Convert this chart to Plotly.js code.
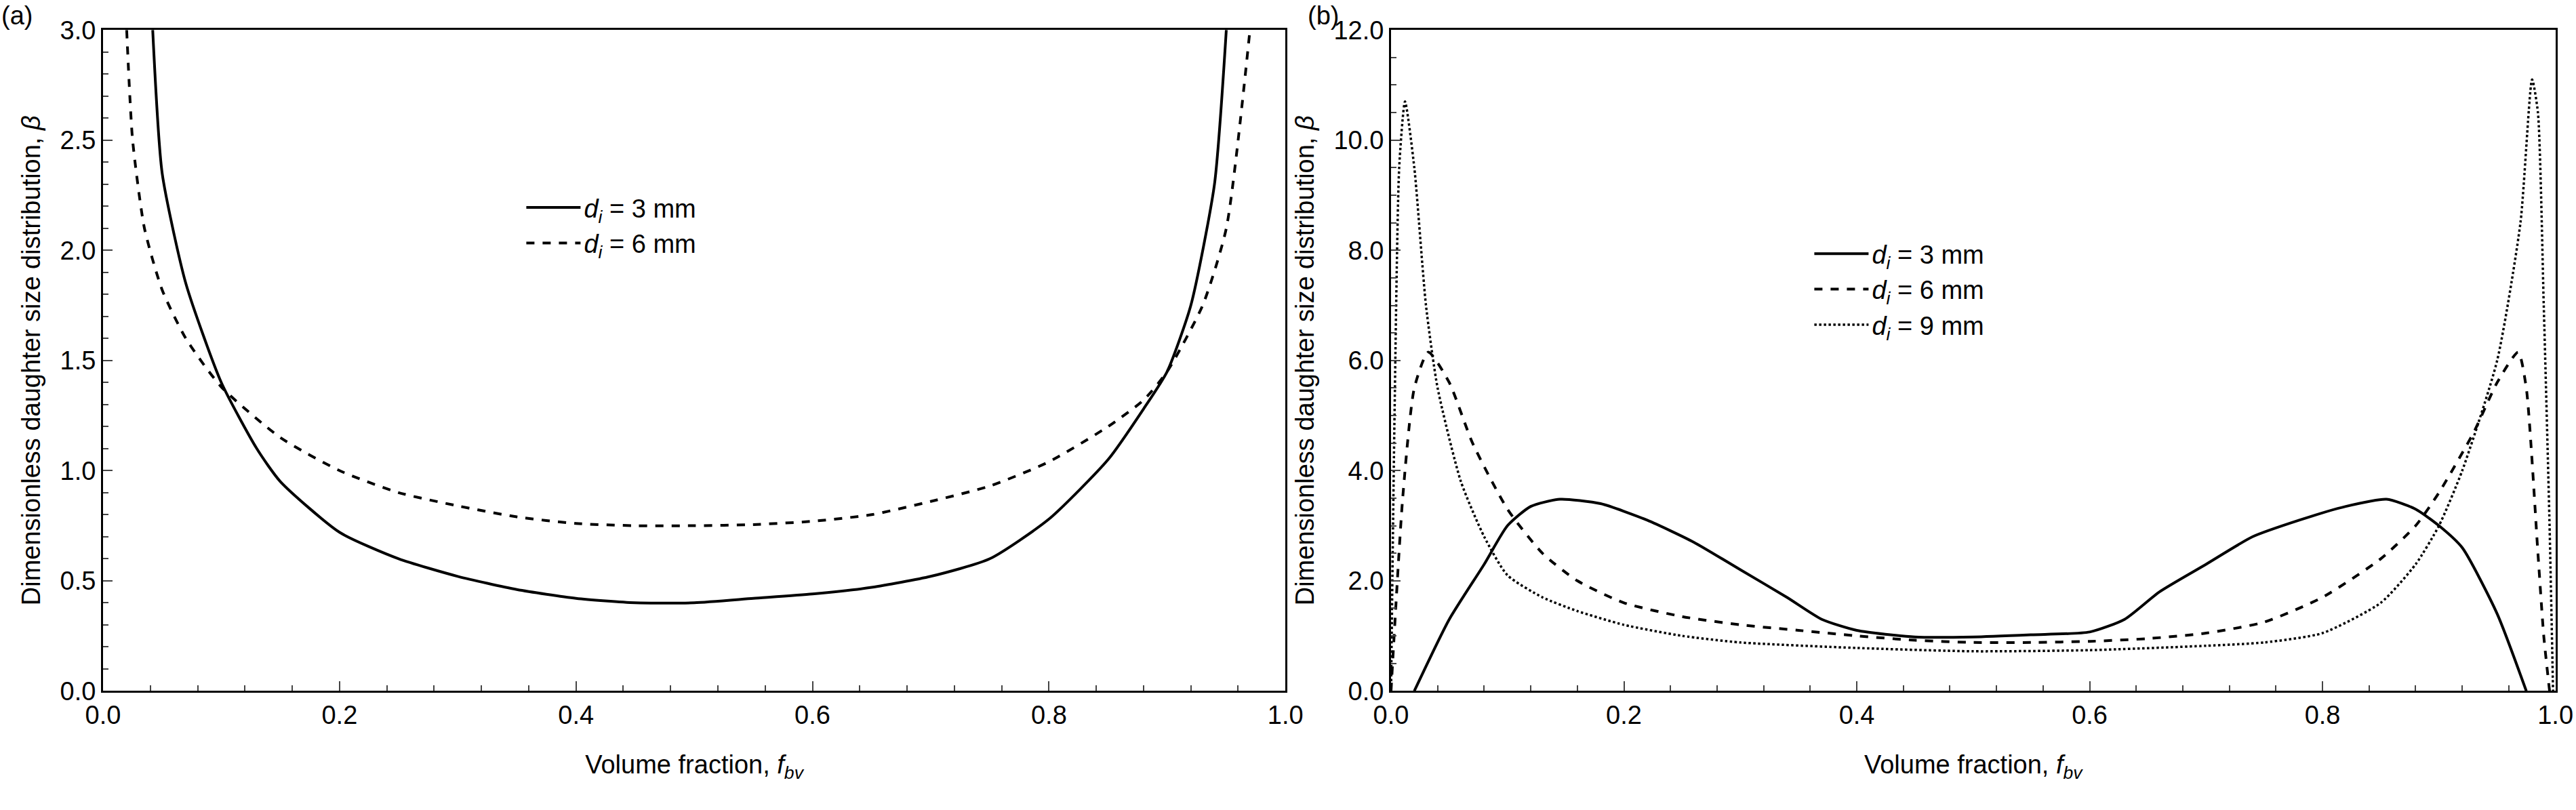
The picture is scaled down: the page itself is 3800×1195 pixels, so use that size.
<!DOCTYPE html>
<html><head><meta charset="utf-8">
<script src="https://cdn.plot.ly/plotly-3.0.1.min.js"></script>
<style>body{margin:0}#chart{width:3800px;height:1195px}</style>
</head><body><div id="chart"></div>
<script>
// Panel (a)
const a3x = [0.042,0.05,0.07,0.1,0.13,0.15,0.2,0.25,0.3,0.35,0.4,0.45,0.5,0.55,0.6,0.65,0.7,0.75,0.8,0.85,0.88,0.9,0.92,0.94,0.95];
const a3y = [3.0,2.35,1.85,1.4,1.1,0.95,0.72,0.6,0.52,0.46,0.42,0.40,0.40,0.42,0.44,0.47,0.52,0.6,0.78,1.05,1.28,1.45,1.75,2.3,3.0];
const a6x = [0.02,0.025,0.035,0.05,0.07,0.1,0.15,0.2,0.25,0.3,0.35,0.4,0.45,0.5,0.55,0.6,0.65,0.7,0.75,0.8,0.85,0.88,0.9,0.93,0.95,0.97];
const a6y = [3.0,2.5,2.1,1.82,1.6,1.38,1.15,1.0,0.9,0.84,0.79,0.76,0.75,0.75,0.755,0.77,0.8,0.86,0.93,1.04,1.2,1.32,1.45,1.75,2.1,3.0];
// Panel (b)
const b3x = [0.02,0.05,0.08,0.1,0.12,0.145,0.18,0.22,0.26,0.3,0.34,0.37,0.4,0.45,0.5,0.55,0.6,0.63,0.66,0.7,0.74,0.78,0.82,0.855,0.88,0.9,0.92,0.95,0.975];
const b3y = [0,1.3,2.3,3.0,3.35,3.48,3.4,3.1,2.7,2.2,1.7,1.3,1.1,0.98,0.98,1.02,1.07,1.3,1.8,2.3,2.8,3.1,3.35,3.48,3.3,3.0,2.6,1.4,0];
const b6x = [0.0,0.01,0.02,0.032,0.05,0.07,0.1,0.13,0.16,0.2,0.25,0.3,0.35,0.4,0.45,0.5,0.55,0.6,0.65,0.7,0.75,0.8,0.85,0.88,0.9,0.93,0.95,0.968,0.975,0.985,0.99,0.995];
const b6y = [0,3.5,5.5,6.15,5.6,4.5,3.3,2.5,2.0,1.6,1.35,1.2,1.1,1.0,0.92,0.88,0.88,0.9,0.95,1.05,1.25,1.7,2.4,3.0,3.6,4.7,5.6,6.15,5.5,2.5,1.0,0];
const b9x = [0.0,0.003,0.007,0.012,0.02,0.03,0.04,0.06,0.08,0.1,0.13,0.16,0.2,0.25,0.3,0.4,0.5,0.6,0.7,0.75,0.8,0.85,0.88,0.9,0.92,0.95,0.97,0.98,0.985,0.99,0.995,0.998];
const b9y = [0,5,9.5,10.7,9.5,7.0,5.5,3.8,2.8,2.1,1.7,1.45,1.2,1.0,0.88,0.78,0.72,0.74,0.82,0.88,1.05,1.6,2.3,3.0,4.0,6.0,8.5,11.1,10.5,7,3,0];

const lbl = s => '<i>d</i><sub><i>i</i></sub> = ' + s;
const ln = (d, w) => ({color:'black', width:w || 4, dash:d, shape:'spline', smoothing:0.6});
const traces = [
  {x:a3x, y:a3y, mode:'lines', name:lbl('3 mm'), line:ln('solid'), xaxis:'x', yaxis:'y', legend:'legend'},
  {x:a6x, y:a6y, mode:'lines', name:lbl('6 mm'), line:ln('dash'), xaxis:'x', yaxis:'y', legend:'legend'},
  {x:b3x, y:b3y, mode:'lines', name:lbl('3 mm'), line:ln('solid'), xaxis:'x2', yaxis:'y2', legend:'legend2'},
  {x:b6x, y:b6y, mode:'lines', name:lbl('6 mm'), line:ln('dash'), xaxis:'x2', yaxis:'y2', legend:'legend2'},
  {x:b9x, y:b9y, mode:'lines', name:lbl('9 mm'), line:ln('dot', 3.5), xaxis:'x2', yaxis:'y2', legend:'legend2'}
];
const fnt = {family:'Liberation Sans, Arial', size:38, color:'black'};
const xax = dom => ({domain:dom, range:[0,1], dtick:0.2, tickformat:'.1f', ticks:'inside', ticklen:14, tickwidth:2,
  minor:{dtick:0.04, ticks:'inside', ticklen:8, tickwidth:2}, showline:true, mirror:true, linewidth:3, linecolor:'black',
  showgrid:false, zeroline:false, tickfont:fnt, title:{text:'Volume fraction, <i>f</i><sub><i>bv</i></sub>', font:fnt, standoff:40}});
const yax = (rng, dt, mn, anchor) => ({domain:[0.147,0.963], range:rng, dtick:dt, tickformat:'.1f', ticks:'inside', ticklen:14, tickwidth:2,
  minor:{dtick:mn, ticks:'inside', ticklen:8, tickwidth:2}, showline:true, mirror:true, linewidth:3, linecolor:'black',
  showgrid:false, zeroline:false, tickfont:fnt, anchor:anchor,
  title:{text:'Dimensionless daughter size distribution, <i>β</i>', font:fnt, standoff:18}});
const leg = (x, y) => ({x:x, y:y, xref:'paper', yref:'paper', xanchor:'left', yanchor:'top', font:fnt,
  bgcolor:'rgba(0,0,0,0)', itemwidth:80, tracegroupgap:0});
const layout = {
  width:3800, height:1195, paper_bgcolor:'white', plot_bgcolor:'white', font:fnt, showlegend:true,
  margin:{l:0, r:0, t:0, b:0},
  xaxis:Object.assign(xax([0.040,0.499]), {anchor:'y'}), yaxis:yax([0,3], 0.5, 0.1, 'x'),
  xaxis2:Object.assign(xax([0.540,0.992]), {anchor:'y2'}), yaxis2:yax([0,12], 2, 0.5, 'x2'),
  legend:leg(0.203, 0.77), legend2:leg(0.703, 0.713),
  annotations:[
    {text:'(a)', x:0, y:1, xref:'paper', yref:'paper', xanchor:'left', yanchor:'top', showarrow:false, font:fnt},
    {text:'(b)', x:0.507, y:1, xref:'paper', yref:'paper', xanchor:'left', yanchor:'top', showarrow:false, font:fnt}
  ]
};
Plotly.newPlot('chart', traces, layout, {displayModeBar:false});
</script></body></html>
